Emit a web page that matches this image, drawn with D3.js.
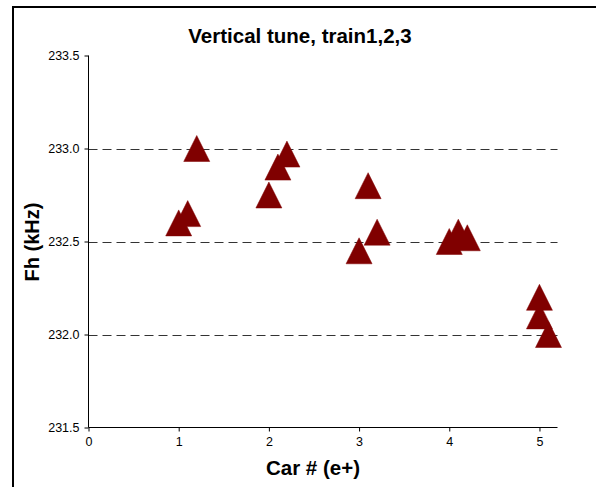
<!DOCTYPE html>
<html>
<head>
<meta charset="utf-8">
<script src="https://cdn.jsdelivr.net/npm/d3@7"></script>
<style>
  html, body { margin: 0; padding: 0; background: #fff; }
  svg { display: block; font-family: "Liberation Sans", Arial, sans-serif; }
</style>
</head>
<body>
<svg id="chart" width="596" height="487"></svg>
<script>
// ---- data ----
const title = "Vertical tune, train1,2,3";
const xLabel = "Car # (e+)";
const yLabel = "Fh (kHz)";
const xTicks = [0, 1, 2, 3, 4, 5];
const yTicks = [231.5, 232.0, 232.5, 233.0, 233.5];
const gridValues = [232.0, 232.5, 233.0];
const train1X = [1.0, 2.0, 3.0, 4.0, 5.0];
const train1Y = [232.60, 232.75, 232.45, 232.50, 232.10];
const train2X = [1.1, 2.1, 3.1, 4.1, 5.1];
const train2Y = [232.65, 232.90, 232.80, 232.55, 232.00];
const train3X = [1.2, 2.2, 3.2, 4.2, 5.0];
const train3Y = [233.00, 232.97, 232.55, 232.52, 232.20];

const series = [
  { x: train1X, y: train1Y },
  { x: train2X, y: train2Y },
  { x: train3X, y: train3Y }
];

const svg = d3.select("#chart");
const pLeft = 88.5, pRight = 557.5, pTop = 55.5, pBottom = 427.5;

const x = d3.scaleLinear().domain([0, 5.2]).range([pLeft, pRight]);
const y = d3.scaleLinear().domain([231.5, 233.5]).range([pBottom, pTop]);

// outer chart frame
svg.append("rect")
  .attr("x", 13).attr("y", 7).attr("width", 620).attr("height", 520)
  .attr("fill", "none").attr("stroke", "#000").attr("stroke-width", 2);

// gridlines
svg.append("g").selectAll("line").data(gridValues).join("line")
  .attr("x1", pLeft).attr("x2", pRight)
  .attr("y1", d => Math.round(y(d)) + 0.5).attr("y2", d => Math.round(y(d)) + 0.5)
  .attr("stroke", "#333").attr("stroke-width", 1)
  .attr("stroke-dasharray", "9,5");

// y axis
const yAxis = d3.axisLeft(y).tickValues(yTicks).tickFormat(d3.format(".1f"))
  .tickSize(4).tickPadding(5);
const gy = svg.append("g").attr("transform", `translate(${pLeft},0)`).call(yAxis);
gy.select(".domain").attr("d", `M0,${pTop}V${pBottom}`).attr("stroke", "#000");
gy.selectAll("text").attr("font-size", 12.5).attr("fill", "#000")
  .attr("font-family", "Liberation Sans, Arial, sans-serif");

// x axis
const xAxis = d3.axisBottom(x).tickValues(xTicks).tickFormat(d3.format("d"))
  .tickSize(4).tickPadding(6);
const gx = svg.append("g").attr("transform", `translate(0,${pBottom})`).call(xAxis);
gx.select(".domain").attr("d", `M${pLeft},0H${pRight}`).attr("stroke", "#000");
gx.selectAll("text").attr("font-size", 12.5).attr("fill", "#000")
  .attr("font-family", "Liberation Sans, Arial, sans-serif");

// markers (triangles)
const triW = 26, triH = 26;
const tri = `M0,${-triH / 2}L${triW / 2},${triH / 2}L${-triW / 2},${triH / 2}Z`;
const pts = [];
series.forEach(s => s.x.forEach((xv, i) => pts.push([xv, s.y[i]])));
svg.append("g").selectAll("path").data(pts).join("path")
  .attr("d", tri)
  .attr("transform", d => `translate(${x(d[0])},${y(d[1])})`)
  .attr("fill", "#800000")
  .attr("stroke", "#800000").attr("stroke-width", 0.5).attr("stroke-linejoin", "round");

// title
svg.append("text").attr("x", 300).attr("y", 43)
  .attr("text-anchor", "middle").attr("font-size", 20.5).attr("font-weight", "bold")
  .text(title);

// x label
svg.append("text").attr("x", 313).attr("y", 475)
  .attr("text-anchor", "middle").attr("font-size", 20.5).attr("font-weight", "bold")
  .text(xLabel);

// y label
svg.append("text")
  .attr("transform", "translate(39,242) rotate(-90)")
  .attr("text-anchor", "middle").attr("font-size", 20).attr("font-weight", "bold")
  .text(yLabel);
</script>
</body>
</html>
